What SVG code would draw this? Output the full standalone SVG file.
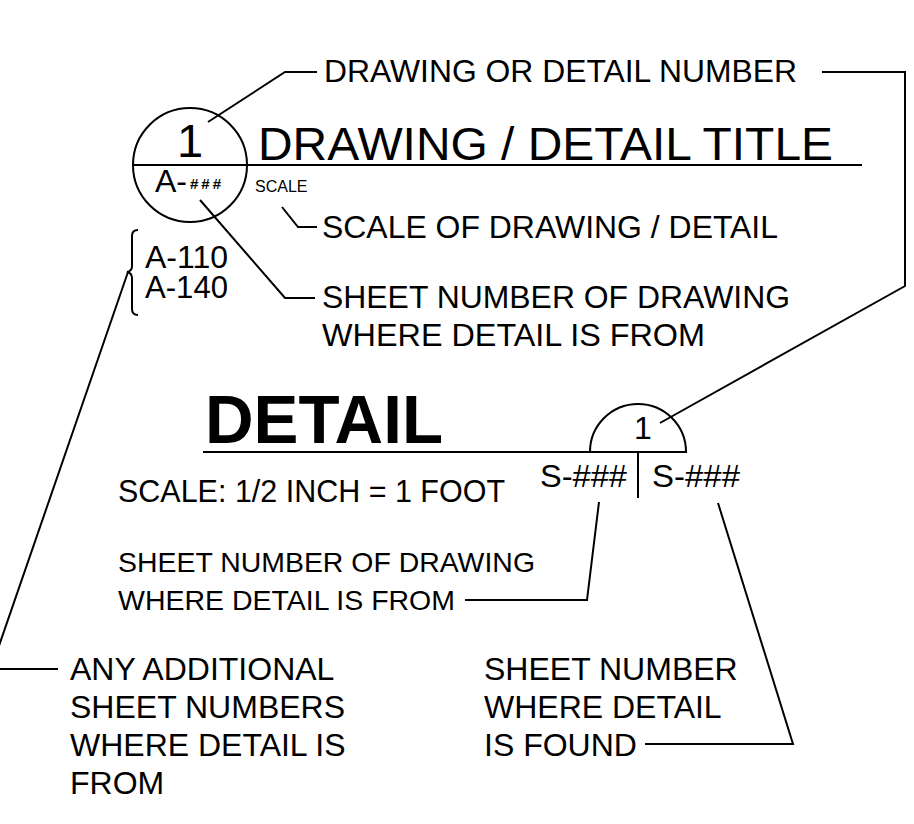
<svg xmlns="http://www.w3.org/2000/svg" width="914" height="824" viewBox="0 0 914 824">
<style>
.ln{fill:none;stroke:#000;stroke-width:2;stroke-linejoin:miter}
.t{font-family:"Liberation Sans",Arial,sans-serif;font-size:32px;fill:#000}
.big{font-size:47px}
.sm{font-size:16px}
.mid{font-size:28.5px}
.b{font-weight:bold;font-size:68px}
</style>
<rect width="914" height="824" fill="#fff"/>
<g id="connectors">
<polyline class="ln" points="208,122 285,72 317,72"/>
<polyline class="ln" points="822,72 905,72 905,286 660,423"/>
<polyline class="ln" points="282,207 298,227 317,227"/>
<polyline class="ln" points="200,200 285,298 315,298"/>
<polyline class="ln" points="128,272 -9,669 58,669"/>
<polyline class="ln" points="599,502 587,600 465,600"/>
<polyline class="ln" points="718,503 793,744 645,744"/>
</g>
<g id="title-marker">
<circle class="ln" cx="190" cy="165" r="57"/>
<line class="ln" x1="133" y1="165" x2="862" y2="165" stroke-width="2.5"/>
<text class="t big" x="190" y="157" text-anchor="middle">1</text>
<text class="t" x="155" y="192" font-size="18" font-weight="300">A-<tspan font-size="15" font-weight="bold" dx="3" dy="-3" letter-spacing="3">###</tspan></text>
<text class="t sm" x="255" y="192">SCALE</text>
<text class="t big" x="258" y="160" textLength="575" lengthAdjust="spacingAndGlyphs">DRAWING / DETAIL TITLE</text>
</g>
<g id="bracket">
<path class="ln" d="M138,230 Q132,230 132,236 L132,266 Q132,271 127,272 Q132,273 132,278 L132,309 Q132,315 138,315"/>
<text class="t" x="145" y="268" font-size="29" textLength="83" lengthAdjust="spacingAndGlyphs">A-110</text>
<text class="t" x="145" y="298" font-size="29" textLength="83" lengthAdjust="spacingAndGlyphs">A-140</text>
</g>
<g id="label-number"><text class="t" x="324" y="82" textLength="473" lengthAdjust="spacingAndGlyphs">DRAWING OR DETAIL NUMBER</text></g>
<g id="label-scale"><text class="t" x="322" y="238" textLength="456" lengthAdjust="spacingAndGlyphs">SCALE OF DRAWING / DETAIL</text></g>
<g id="label-sheet1">
<text class="t" x="322" y="308" textLength="468" lengthAdjust="spacingAndGlyphs">SHEET NUMBER OF DRAWING</text>
<text class="t" x="322" y="346" textLength="383" lengthAdjust="spacingAndGlyphs">WHERE DETAIL IS FROM</text>
</g>
<g id="detail-marker">
<text class="t b" x="205" y="443" textLength="238" lengthAdjust="spacingAndGlyphs">DETAIL</text>
<line class="ln" x1="203" y1="452" x2="687" y2="452" stroke-width="2.5"/>
<path class="ln" d="M590,452 A48,48 0 0 1 686,452"/>
<text class="t" x="643" y="439" font-size="32" text-anchor="middle">1</text>
<line class="ln" x1="638" y1="452" x2="638" y2="498"/>
<text class="t" x="540" y="487" font-size="31" textLength="87" lengthAdjust="spacingAndGlyphs">S-###</text>
<text class="t" x="652" y="487" font-size="31" textLength="88" lengthAdjust="spacingAndGlyphs">S-###</text>
<text class="t" x="118" y="502" font-size="30.5" textLength="387" lengthAdjust="spacingAndGlyphs">SCALE: 1/2 INCH = 1 FOOT</text>
</g>
<g id="label-sheet2">
<text class="t mid" x="118" y="572" textLength="417" lengthAdjust="spacingAndGlyphs">SHEET NUMBER OF DRAWING</text>
<text class="t mid" x="118" y="610" textLength="337" lengthAdjust="spacingAndGlyphs">WHERE DETAIL IS FROM</text>
</g>
<g id="label-additional">
<text class="t" x="70" y="680">ANY ADDITIONAL</text>
<text class="t" x="70" y="718">SHEET NUMBERS</text>
<text class="t" x="70" y="756">WHERE DETAIL IS</text>
<text class="t" x="70" y="794">FROM</text>
</g>
<g id="label-found">
<text class="t" x="484" y="680" font-size="31.5">SHEET NUMBER</text>
<text class="t" x="484" y="718" font-size="31.5">WHERE DETAIL</text>
<text class="t" x="484" y="756" font-size="31.5">IS FOUND</text>
</g>
</svg>
